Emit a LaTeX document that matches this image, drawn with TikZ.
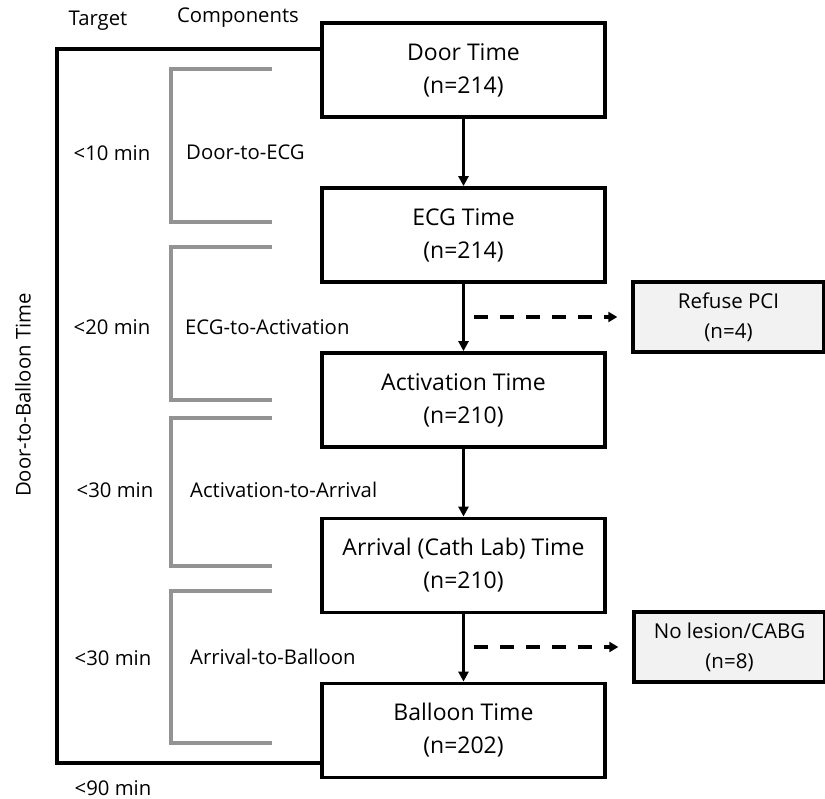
\documentclass[tikz,border=0pt]{standalone}
\usepackage{fontspec}
\setmainfont{Open Sans}
\usetikzlibrary{arrows.meta,positioning,calc}
\begin{document}
\begin{tikzpicture}[x=1pt,y=-1pt,
  mainbox/.style={draw=black,line width=3.8pt,minimum width=283pt,minimum height=94pt,inner sep=0pt,align=center,font=\fontsize{23}{33}\selectfont},
  sidebox/.style={draw=black,line width=3.4pt,fill=gray!10,minimum width=191pt,minimum height=70pt,inner sep=0pt,align=center,font=\fontsize{20.5}{30}\selectfont},
  lbl/.style={font=\fontsize{20.3}{24}\selectfont,inner sep=0pt},
  flow/.style={line width=3.2pt,-{Triangle[length=10pt,width=10pt]}},
  dasharrow/.style={line width=3.8pt,dash pattern=on 14pt off 12pt,-{Triangle[length=9pt,width=10pt]},shorten >=14pt},
  bigbracket/.style={line width=3.8pt,black},
  compbracket/.style={line width=3.3pt,draw=gray!85!white}
]
\useasboundingbox (0,0) rectangle (825,799);

% main boxes
\node[mainbox] (door) at (463.5,70) {Door Time\\(n=214)};
\node[mainbox] (ecg) at (463.5,235) {ECG Time\\(n=214)};
\node[mainbox] (act) at (463.5,400) {Activation Time\\(n=210)};
\node[mainbox] (arr) at (463.5,565.5) {Arrival (Cath Lab) Time\\(n=210)};
\node[mainbox] (bal) at (463.5,730.5) {Balloon Time\\(n=202)};

% side boxes
\node[sidebox] (refuse) at (728.5,317) {Refuse PCI\\(n=4)};
\node[sidebox] (nolesion) at (729.5,647) {No lesion/CABG\\(n=8)};

% flow arrows
\draw[flow] (door) -- (ecg);
\draw[flow] (ecg) -- (act);
\draw[flow] (act) -- (arr);
\draw[flow] (arr) -- (bal);

% dashed arrows
\coordinate (d1) at (474,317);
\coordinate (d2) at (474,647);
\draw[dasharrow] (d1) -- (refuse.west);
\draw[dasharrow] (d2) -- (nolesion.west);

% big door-to-balloon bracket
\coordinate (bt) at (door.west |- 0,49);
\coordinate (bb) at (bal.west |- 0,763);
\draw[bigbracket] (bt) -- (57,49) -- (57,763) -- (bb);

% component brackets
\draw[compbracket] (272,69) -- (171,69) -- (171,222) -- (272,222);
\draw[compbracket] (272,247) -- (171,247) -- (171,400) -- (272,400);
\draw[compbracket] (272,418) -- (171,418) -- (171,566) -- (272,566);
\draw[compbracket] (272,591) -- (171,591) -- (171,743) -- (272,743);

% headers
\node[lbl] (target) at (98,21) {Target};
\node[lbl] (comp) at (238,18) {Components};

% targets
\node[lbl] (t1) at (112,153) {<10 min};
\node[lbl] (t2) at (112,327) {<20 min};
\node[lbl] (t3) at (115,490) {<30 min};
\node[lbl] (t4) at (113,658) {<30 min};
\node[lbl] (t5) at (113,788) {<90 min};

% components
\node[lbl,anchor=west] (c1) at (186,152) {Door-to-ECG};
\node[lbl,anchor=west] (c2) at (185,327) {ECG-to-Activation};
\node[lbl,anchor=west] (c3) at (190,490) {Activation-to-Arrival};
\node[lbl,anchor=west] (c4) at (190,657) {Arrival-to-Balloon};

% vertical label
\node[lbl,rotate=90] (dtb) at (23,395) {Door-to-Balloon Time};
\end{tikzpicture}
\end{document}
